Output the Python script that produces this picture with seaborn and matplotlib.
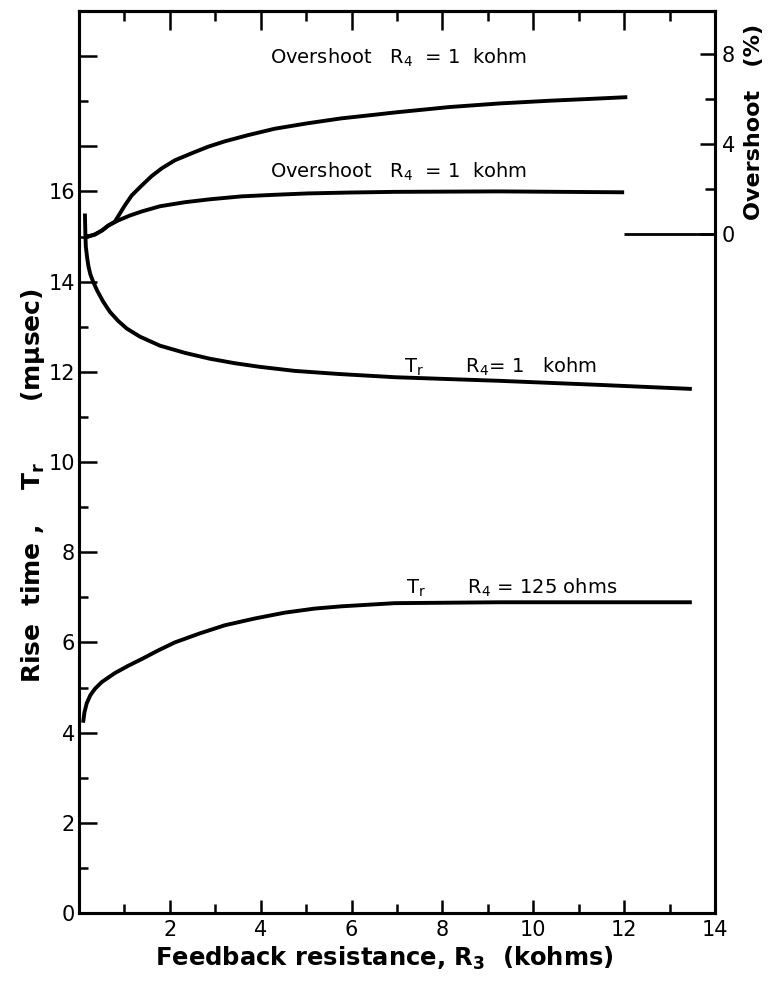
import matplotlib
matplotlib.use("Agg")
import matplotlib.pyplot as plt
import seaborn as sns
from matplotlib.ticker import FixedLocator, FixedFormatter

# ---- data ----
# Overshoot curves (right axis, %)
ov_hi_x = [0.13, 0.2, 0.35, 0.51, 0.64, 0.79, 1.01, 1.16, 1.38, 1.6, 1.82, 2.11, 2.48, 2.84,
           3.21, 3.71, 4.31, 5.03, 5.78, 6.51, 6.95, 8.15, 9.25, 10.35, 11.23, 12.07]
ov_hi_y = [-0.05, -0.1, -0.01, 0.17, 0.38, 0.56, 1.28, 1.72, 2.16, 2.58, 2.92, 3.28, 3.59, 3.88,
           4.12, 4.39, 4.68, 4.92, 5.14, 5.3, 5.4, 5.64, 5.8, 5.92, 6.0, 6.08]
ov_lo_x = [0.13, 0.2, 0.35, 0.51, 0.64, 0.86, 1.12, 1.38, 1.78, 2.33, 2.88, 3.58, 4.31, 5.03,
           5.96, 6.95, 9.25, 12.0]
ov_lo_y = [-0.05, -0.1, -0.01, 0.17, 0.38, 0.61, 0.83, 1.01, 1.24, 1.42, 1.55, 1.68, 1.75, 1.81,
           1.85, 1.88, 1.9, 1.86]
ov_zero_x = [12.0, 14.0]
ov_zero_y = [0.0, 0.0]
# Rise time curves (left axis, m-mu-sec)
tr_1k_x = [0.13, 0.14, 0.15, 0.18, 0.21, 0.25, 0.31, 0.4, 0.53, 0.68, 0.86, 1.05, 1.34, 1.78,
           2.33, 2.88, 3.43, 3.98, 4.75, 5.74, 6.95, 9.25, 11.45, 13.49]
tr_1k_y = [15.51, 15.07, 14.78, 14.52, 14.33, 14.16, 14.0, 13.8, 13.56, 13.33, 13.13, 12.96,
           12.78, 12.58, 12.42, 12.29, 12.19, 12.11, 12.02, 11.95, 11.88, 11.8, 11.71, 11.62]
tr_125_x = [0.09, 0.12, 0.17, 0.25, 0.35, 0.5, 0.79, 1.08, 1.38, 1.74, 2.11, 2.66, 3.21,
            3.87, 4.53, 5.19, 5.78, 6.95, 9.25, 13.49]
tr_125_y = [4.22, 4.45, 4.65, 4.83, 4.97, 5.12, 5.32, 5.48, 5.63, 5.82, 6.0, 6.2, 6.38,
            6.53, 6.66, 6.75, 6.8, 6.87, 6.89, 6.89]

x_tick_vals = [2, 4, 6, 8, 10, 12, 14]
x_tick_labels = ["2", "4", "6", "8", "10", "12", "14"]
y_tick_vals = [0, 2, 4, 6, 8, 10, 12, 14, 16]
y_tick_labels = ["0", "2", "4", "6", "8", "10", "12", "14", "16"]
ov_tick_vals = [0, 4, 8]
ov_tick_labels = ["0", "4", "8"]

sns.set_style("ticks")
plt.rcParams["font.family"] = ["DejaVu Sans"]
plt.rcParams["mathtext.default"] = "regular"
for k in ("text.color", "axes.labelcolor", "xtick.color", "ytick.color", "axes.edgecolor"):
    plt.rcParams[k] = "black"

fig = plt.figure(figsize=(7.77, 9.91), dpi=100)
ax = fig.add_axes([79 / 777, 1 - 913 / 991, 636 / 777, 902 / 991])
ax2 = ax.twinx()

LW = 2.8
kw = dict(color="black", linewidth=LW, sort=False, estimator=None, legend=False)
sns.lineplot(x=tr_1k_x, y=tr_1k_y, ax=ax, **kw)
sns.lineplot(x=tr_125_x, y=tr_125_y, ax=ax, **kw)
sns.lineplot(x=ov_hi_x, y=ov_hi_y, ax=ax2, **kw)
sns.lineplot(x=ov_lo_x, y=ov_lo_y, ax=ax2, **kw)
sns.lineplot(x=ov_zero_x, y=ov_zero_y, ax=ax2, color="black", linewidth=2.0,
             sort=False, estimator=None, legend=False)
for ln in ax.lines + ax2.lines:
    ln.set_solid_capstyle("butt")
    ln.set_solid_joinstyle("round")

ax.set_xlim(0, 14)
ax.set_ylim(0, 20)
ax2.set_ylim(-30.1, 9.9)

for a in (ax, ax2):
    for s in a.spines.values():
        s.set_visible(True)
        s.set_linewidth(2.2)
        s.set_color("black")

# x ticks (bottom)
ax.xaxis.set_major_locator(FixedLocator(x_tick_vals))
ax.xaxis.set_major_formatter(FixedFormatter(x_tick_labels))
ax.xaxis.set_minor_locator(FixedLocator([1, 3, 5, 7, 9, 11, 13]))
ax.tick_params(axis="x", which="major", direction="in", length=9.5, width=1.8,
               labelsize=15, pad=5, top=False)
ax.tick_params(axis="x", which="minor", direction="in", length=6.5, width=1.8, top=False)
# top ticks
secx = ax.secondary_xaxis("top")
secx.xaxis.set_major_locator(FixedLocator([2, 4, 6, 8, 10, 12]))
secx.xaxis.set_minor_locator(FixedLocator([1, 3, 5, 7, 9, 11, 13]))
secx.tick_params(which="major", direction="in", length=14, width=1.8, labeltop=False)
secx.tick_params(which="minor", direction="in", length=7.5, width=1.8)
secx.spines["top"].set_linewidth(2.2)

# y ticks (left)
ax.yaxis.set_major_locator(FixedLocator(y_tick_vals + [17, 19]))
ax.yaxis.set_major_formatter(FixedFormatter(y_tick_labels + ["", ""]))
ax.yaxis.set_minor_locator(FixedLocator([1, 3, 5, 7, 9, 11, 13, 15, 18]))
ax.tick_params(axis="y", which="major", direction="in", length=13, width=1.8,
               labelsize=15, pad=3, right=False)
ax.tick_params(axis="y", which="minor", direction="in", length=6.5, width=1.8, right=False)

# right (overshoot) ticks
ax2.yaxis.set_major_locator(FixedLocator(ov_tick_vals))
ax2.yaxis.set_major_formatter(FixedFormatter(ov_tick_labels))
ax2.yaxis.set_minor_locator(FixedLocator([2, 6]))
ax2.tick_params(axis="y", which="major", direction="in", length=11, width=1.8,
                labelsize=15, pad=5, left=False)
ax2.tick_params(axis="y", which="minor", direction="in", length=7, width=1.8, left=False)

# axis labels
ax.set_xlabel("Feedback resistance, R$_3$  (kohms)", fontsize=17.5, fontweight="bold")
ax.xaxis.set_label_coords(0.481, -0.035)
ax.set_ylabel("Rise  time ,    T$_r$       (m\u03bcsec)", fontsize=18, fontweight="bold")
ax.yaxis.set_label_coords(-0.05, 0.474)
ax2.set_ylabel("Overshoot   (%)", fontsize=16, fontweight="bold")
ax2.yaxis.set_label_coords(1.045, 0.877)

# curve annotations
tk = dict(fontsize=14, va="center", ha="left", color="black")
ax.text(4.2, 18.96, "Overshoot   R$_4$  = 1  kohm", **tk)
ax.text(4.2, 16.44, "Overshoot   R$_4$  = 1  kohm", **tk)
ax.text(7.16, 12.1, "T$_r$       R$_4$= 1   kohm", **tk)
ax.text(7.2, 7.22, "T$_r$       R$_4$ = 125 ohms", **tk)

fig.savefig("out.png", dpi=100)
